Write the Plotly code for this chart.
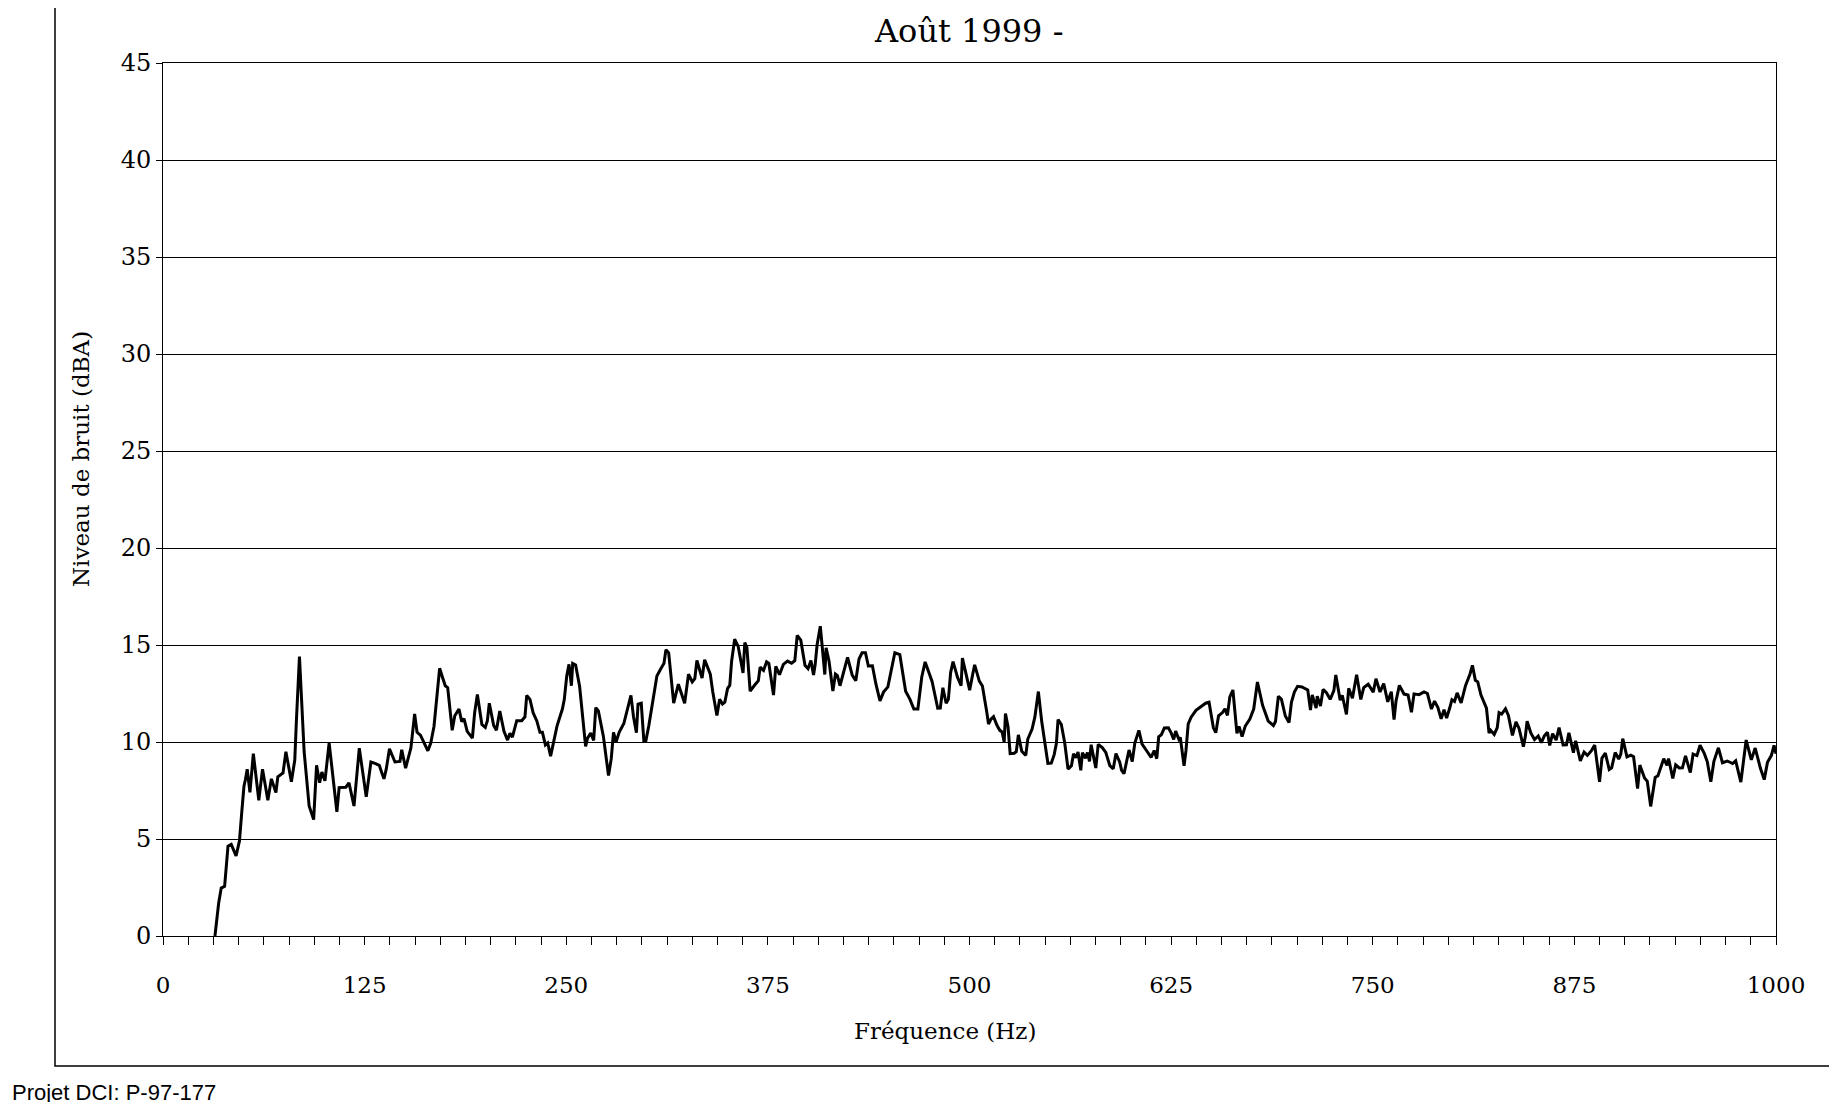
import plotly.graph_objects as go

# Frequency (Hz) and noise level (dBA)
freq_hz = [
    32.2, 34.5, 36.1, 38.2, 40.3, 42.3, 45.3, 47.4, 48.8, 50.2, 51.1, 52.2, 53.9, 54.8, 56.0, 59.4,
    61.7, 65.0, 67.2, 70.0, 71.2, 74.4, 76.2, 79.6, 81.7, 82.7, 83.6, 84.6, 87.5, 90.6, 93.4, 95.2,
    97.1, 98.5, 100.4, 103.0, 107.8, 109.2, 113.4, 115.3, 118.4, 121.7, 126.0, 128.9, 131.4, 134.1,
    135.7, 137.0, 138.4, 140.4, 143.8, 146.9, 148.0, 150.4, 153.7, 156.0, 157.5, 159.6, 164.2, 166.0,
    168.0, 169.6, 171.5, 173.0, 175.0, 176.5, 179.3, 180.9, 183.5,
    185.2, 186.6, 188.6, 190.7, 191.8, 193.2, 194.9, 197.7, 199.8, 201.1, 202.3, 205.0, 206.7, 208.8,
    211.4, 213.6, 215.1, 216.6, 219.3, 222.4, 224.4, 225.5, 227.5, 229.5, 231.7, 233.7, 235.2, 237.1,
    238.5, 240.3, 241.7, 244.3, 247.6, 248.8, 250.3, 251.7, 253.2, 254.0, 255.8, 258.3, 262.0, 263.2,
    265.2, 267.0, 268.3, 269.9, 273.0, 276.2, 277.9, 279.3, 280.9, 282.8, 285.7, 288.4, 290.1, 291.7,
    293.5, 294.5, 296.5, 298.1, 299.4, 301.2, 303.8, 306.2, 308.1, 310.6, 311.8, 313.5, 316.6, 319.5,
    323.4, 325.8, 328.1, 329.7, 331.0, 334.2, 335.8, 339.3, 340.8, 343.4,
    345.1, 346.9, 348.3, 350.0, 351.4, 352.5, 354.4, 356.6, 359.6, 360.7, 362.0, 364.0, 366.5, 369.1,
    370.2, 372.3, 374.2, 375.6, 378.5, 379.9, 382.2, 384.6, 387.2, 389.7, 391.7, 393.2, 395.4, 398.0,
    399.9, 401.7, 403.3, 404.3, 405.5, 407.5, 410.3, 411.1, 412.9, 415.3, 416.9, 418.1, 419.7, 422.0,
    424.4, 427.3, 429.5, 431.5, 433.4, 435.5, 437.3, 439.8, 442.0, 444.5, 446.7, 449.4, 451.6, 453.7,
    456.8, 460.4, 463.1, 465.5, 468.0, 470.4, 472.5, 476.8, 480.3, 481.9, 483.5, 485.5, 486.9, 488.3,
    489.8, 492.6, 494.8, 495.6, 497.6, 500.1, 501.9, 503.2,
    506.1, 508.0, 510.6, 511.8, 513.3, 514.9, 517.1, 518.8, 520.2, 521.5, 522.3, 523.9, 525.2, 527.7,
    529.0, 530.3, 532.4, 534.9, 536.1, 538.8, 540.5, 541.5, 542.7, 544.8, 546.6, 548.6, 550.7, 552.5,
    553.9, 554.9, 556.9, 559.0, 561.1, 563.2, 564.5, 566.0, 567.3, 569.0, 570.0, 571.9, 573.1, 574.4,
    575.4, 578.3, 579.8, 582.3, 584.5, 587.0, 589.1, 590.8, 593.1, 594.3, 595.8, 597.2, 598.9, 600.9,
    602.5, 605.0, 607.0, 609.8, 612.6, 614.5, 616.1, 617.3, 618.9, 620.8, 623.3, 625.0, 626.6, 627.8,
    629.8, 630.7, 633.0, 634.2, 635.6, 637.4, 640.4, 643.4, 646.4, 648.5, 651.2, 652.7, 654.4, 657.0,
    658.4, 659.9, 661.4, 663.3, 665.8, 667.1, 669.0, 670.9,
    673.8, 676.2, 677.3, 678.5, 681.7, 685.2, 688.4, 689.7, 691.5, 693.4, 695.8, 698.1, 699.6, 701.4,
    703.4, 706.1, 709.7, 711.4, 712.5, 714.9, 715.6, 717.6, 719.2, 721.3, 723.6, 725.9, 727.1, 729.8,
    731.1, 733.7, 735.1, 737.4, 740.0, 742.6, 744.4, 747.2, 750.3, 752.0, 754.5, 756.8, 759.3, 761.5,
    763.2, 764.4, 766.5, 769.4, 771.9, 774.0, 775.6, 778.7, 781.8, 783.9, 786.4, 788.3, 790.4, 792.4,
    794.2, 795.8, 797.7, 799.1, 800.7, 802.3, 804.8, 807.5, 810.3, 811.8, 813.6, 815.1, 817.1, 818.9,
    820.5, 822.1, 823.1, 825.3, 827.2, 828.3,
    829.9, 832.3, 834.1, 836.6, 838.8, 840.7, 843.4, 844.6, 845.7, 848.0, 850.3, 852.6, 854.5, 856.4,
    858.3, 859.7, 861.5, 863.7, 865.5, 868.0, 870.1, 871.6, 874.4, 875.8, 878.7, 881.0, 883.1, 885.7,
    887.6, 890.6, 892.1, 894.2, 896.6, 898.1, 900.3, 902.5, 903.8, 905.0, 907.6, 910.0, 911.7, 914.2,
    915.6, 918.5, 920.2, 922.3, 924.0, 925.1, 926.8, 928.6, 930.4, 932.4, 933.4, 936.0, 937.8, 940.0,
    942.0, 943.9, 946.9, 948.6, 951.0, 952.9, 955.6, 957.4, 959.6, 961.5, 964.3, 966.8, 969.8, 973.1,
    975.0, 978.2, 979.8, 981.5, 984.7, 987.1, 990.3, 992.7, 994.7, 997.1, 998.8, 1000.0,
]

level_dba = [
    0.0, 1.69, 2.47, 2.56, 4.63, 4.72, 4.13, 4.9, 6.35, 7.72, 8.07, 8.6, 7.4, 8.1, 9.4, 7.0,
    8.6, 7.0, 8.1, 7.4, 8.2, 8.4, 9.5, 7.95, 9.07, 11.1, 12.8, 14.4, 9.5, 6.7, 6.0, 8.8,
    7.9, 8.45, 8.0, 9.95, 6.4, 7.65, 7.67, 7.9, 6.7, 9.68, 7.17, 8.97, 8.9, 8.8,
    8.4, 8.1, 8.6, 9.65, 8.97, 9.0, 9.6, 8.65, 9.7, 11.45, 10.5, 10.35, 9.55, 9.95,
    10.8, 12.2, 13.8, 13.4, 12.9, 12.8, 10.6, 11.35, 11.7,
    11.05, 11.2, 10.55, 10.3, 10.2, 11.5, 12.45, 10.9, 10.75, 11.1, 12.0, 10.85, 10.6, 11.6,
    10.55, 10.1, 10.45, 10.25, 11.1, 11.1, 11.3, 12.4, 12.2, 11.5, 11.1, 10.5, 10.5, 9.85,
    9.95, 9.27, 9.8, 10.83, 11.7, 12.2, 13.4, 14.0, 12.9, 14.05, 13.97, 12.86, 9.77, 10.2,
    10.46, 10.08, 11.77, 11.6, 10.3, 8.27, 9.14, 10.5, 10.0, 10.5, 10.95, 11.8, 12.4, 11.3,
    10.48, 11.95, 12.0, 10.06, 10.07, 10.85, 12.1, 13.4, 13.7, 14.06, 14.76, 14.6, 12.0, 12.98,
    12.0, 13.5, 13.1, 13.27, 14.2, 13.3, 14.24, 13.5, 12.6, 11.37,
    12.2, 11.96, 12.05, 12.75, 12.93, 14.15, 15.3, 14.93, 13.56, 15.12, 14.86, 12.62, 12.9, 13.16,
    13.86, 13.69, 14.13, 14.05, 12.42, 13.9, 13.47, 14.0, 14.17, 14.06, 14.19, 15.5, 15.25, 13.95,
    13.78, 14.2, 13.45, 13.98, 15.0, 15.97, 13.48, 14.86, 14.17, 12.63, 13.5, 13.42, 12.9, 13.69,
    14.36, 13.45, 13.16, 14.28, 14.6, 14.6, 13.92, 13.93, 12.98, 12.12, 12.57, 12.84, 13.8, 14.6,
    14.5, 12.62, 12.2, 11.7, 11.7, 13.35, 14.13, 13.12, 11.74, 11.75, 12.8, 12.0, 12.2, 13.58,
    14.14, 13.33, 12.9, 14.32, 13.6, 12.67, 13.45, 13.98,
    13.14, 12.89, 11.6, 10.92, 11.18, 11.31, 10.85, 10.6, 10.52, 10.0, 11.47, 10.78, 9.4, 9.42,
    9.5, 10.37, 9.52, 9.31, 10.14, 10.67, 11.28, 11.98, 12.6, 11.04, 10.01, 8.9, 8.91, 9.35,
    9.95, 11.16, 10.91, 9.97, 8.6, 8.78, 9.39, 9.19, 9.48, 8.54, 9.45, 9.16, 9.46, 9.0,
    9.86, 8.66, 9.88, 9.71, 9.46, 8.78, 8.62, 9.4, 8.97, 8.54, 8.37, 8.97, 9.59, 8.99,
    9.95, 10.6, 9.89, 9.55, 9.21, 9.56, 9.14, 10.27, 10.37, 10.72, 10.73, 10.47, 10.13, 10.56,
    10.14, 10.23, 8.77, 9.55, 10.93, 11.28, 11.63, 11.82, 12.0, 12.05, 10.73, 10.48, 11.35, 11.53,
    11.71, 11.37, 12.33, 12.68, 10.45, 10.8, 10.28, 10.81,
    11.18, 11.7, 12.4, 13.09, 11.89, 11.08, 10.85, 11.06, 12.36, 12.2, 11.34, 11.0, 12.04, 12.57,
    12.87, 12.84, 12.68, 11.65, 12.43, 11.75, 12.36, 11.85, 12.71, 12.54, 12.2, 12.65, 13.46, 12.15,
    12.41, 11.42, 12.77, 12.26, 13.47, 12.19, 12.8, 12.98, 12.57, 13.26, 12.58, 13.01, 12.07, 12.59,
    11.15, 12.1, 12.92, 12.47, 12.42, 11.53, 12.48, 12.44, 12.58, 12.5, 11.7, 12.11, 11.77, 11.19,
    11.66, 11.23, 11.75, 12.18, 12.09, 12.53, 12.02, 12.9, 13.51, 13.95, 13.18, 13.1, 12.42, 12.0,
    11.74, 10.46, 10.6, 10.39, 10.74, 11.51,
    11.44, 11.71, 11.37, 10.34, 11.04, 10.7, 9.76, 10.28, 11.07, 10.47, 10.13, 10.31, 9.97, 10.32,
    10.5, 9.82, 10.43, 10.1, 10.74, 9.85, 9.86, 10.47, 9.45, 10.06, 9.03, 9.48, 9.31, 9.57,
    9.84, 7.95, 9.17, 9.43, 8.58, 8.67, 9.46, 9.12, 9.38, 10.17, 9.23, 9.32, 9.24, 7.6,
    8.81, 8.14, 7.97, 6.68, 7.56, 8.17, 8.26, 8.7, 9.14, 8.8, 9.15, 8.12, 8.82, 8.66,
    8.67, 9.28, 8.42, 9.38, 9.3, 9.83, 9.4, 8.98, 7.95, 9.0, 9.7, 8.93, 9.02, 8.89,
    9.03, 7.93, 9.06, 10.1, 9.08, 9.69, 8.66, 8.06, 8.95, 9.3, 9.83, 9.4,
]

x_tick_values = [0, 125, 250, 375, 500, 625, 750, 875, 1000]
y_tick_values = [0, 5, 10, 15, 20, 25, 30, 35, 40, 45]

title_text = "Août 1999 -"
x_title = "Fréquence (Hz)"
y_title = "Niveau de bruit (dBA)"
footer_text = "Projet DCI: P-97-177"

W, H = 1837, 1102
ML, MR, MT, MB = 155, 69, 55, 174
PW, PH = W - ML - MR, H - MT - MB


def px_x(p):
    return (p - ML) / PW


def px_y(p):
    return (H - MB - p) / PH


serif = "DejaVu Serif"

fig = go.Figure()
fig.add_trace(go.Scatter(
    x=freq_hz, y=level_dba, mode="lines",
    line=dict(color="black", width=3),
    showlegend=False, hoverinfo="skip",
))

fig.update_layout(
    width=W, height=H,
    margin=dict(l=ML, r=MR, t=MT, b=MB),
    paper_bgcolor="white", plot_bgcolor="white",
    font=dict(family=serif, color="black", size=23),
    xaxis=dict(
        range=[0, 1000], tickvals=x_tick_values,
        ticktext=[str(v) for v in x_tick_values],
        ticks="outside", ticklen=8, tickwidth=1, tickcolor="black",
        minor=dict(dtick=15.625, tick0=0, ticks="outside", ticklen=8, tickwidth=1,
                   tickcolor="black", showgrid=False),
        showgrid=False, zeroline=False,
        showline=True, linecolor="black", linewidth=1, mirror=True,
        ticklabelstandoff=20,
        tickfont=dict(family=serif, size=23, color="black"),
    ),
    yaxis=dict(
        range=[0, 45], tickvals=y_tick_values,
        ticks="outside", ticklen=6, tickwidth=1, tickcolor="black",
        showgrid=True, gridcolor="black", gridwidth=1,
        zeroline=False,
        showline=True, linecolor="black", linewidth=1, mirror=True,
        tickfont=dict(family=serif, size=24, color="black"),
    ),
    annotations=[
        dict(text=title_text, xref="paper", yref="paper", x=px_x(960), y=px_y(2),
             xanchor="center", yanchor="top", showarrow=False,
             font=dict(family=serif, size=32, color="black")),
        dict(text=y_title, xref="paper", yref="paper", x=px_x(73), y=px_y(451),
             xanchor="center", yanchor="middle", textangle=-90, showarrow=False,
             font=dict(family=serif, size=23, color="black")),
        dict(text=x_title, xref="paper", yref="paper", x=px_x(937), y=px_y(1023),
             xanchor="center", yanchor="middle", showarrow=False,
             font=dict(family=serif, size=23, color="black")),
        dict(text=footer_text, xref="paper", yref="paper", x=px_x(2), y=px_y(1099),
             xanchor="left", yanchor="bottom", showarrow=False,
             font=dict(family="Liberation Sans", size=22, color="black")),
    ],
    shapes=[
        dict(type="rect", xref="paper", yref="paper",
             x0=px_x(47), x1=px_x(1828), y0=px_y(1058), y1=px_y(-10),
             line=dict(color="black", width=1.5), fillcolor="rgba(0,0,0,0)", layer="below"),
    ],
)

fig.write_html("out.html")
